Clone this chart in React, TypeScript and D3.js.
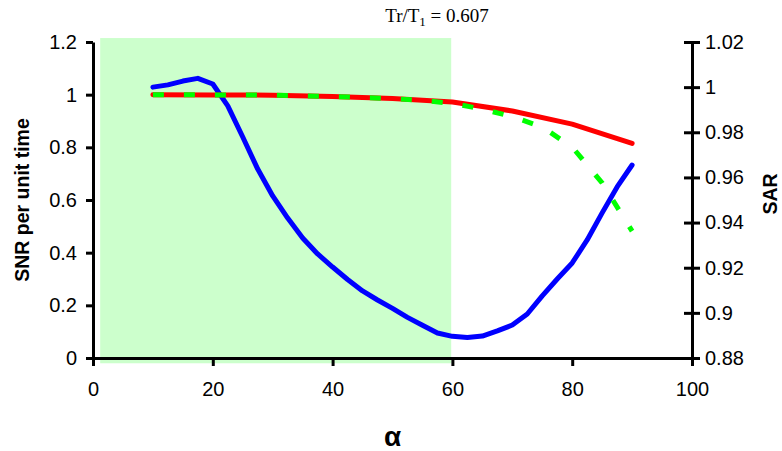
import React, { useEffect, useRef } from 'react';
import * as d3 from 'd3';

// ---- data ----
const blueAlpha = [10, 12.5, 15, 17.5, 20, 22.5, 25, 27.5, 30, 32.5, 35, 37.5, 40, 42.5, 45, 47.5, 50, 52.5, 55, 57.5, 60, 62.5, 65, 67.5, 70, 72.5, 75, 77.5, 80, 82.5, 85, 87.5, 90];
const blueSar = [1.0, 1.001, 1.0027, 1.0039, 1.0014, 0.9917, 0.9779, 0.9637, 0.9518, 0.942, 0.9332, 0.9261, 0.9203, 0.9148, 0.9097, 0.9057, 0.902, 0.898, 0.8945, 0.8911, 0.8896, 0.8891, 0.8897, 0.892, 0.8946, 0.8995, 0.9075, 0.915, 0.9221, 0.9323, 0.9443, 0.9558, 0.9655];

const redAlpha = [10, 20, 30, 40, 50, 60, 70, 80, 90];
const redSnr = [1.0, 0.999, 0.998, 0.993, 0.985, 0.972, 0.938, 0.888, 0.815];

const greenAlpha = [10, 20, 30, 40, 50, 55, 60, 65, 70, 75, 80, 85, 90];
const greenSnr = [1.0, 0.999, 0.998, 0.993, 0.985, 0.978, 0.967, 0.945, 0.917, 0.877, 0.801, 0.665, 0.482];

const shadeAlpha = [1.2, 59.8];
const shadeSnr = [-0.02, 1.215];

const xTicks = [0, 20, 40, 60, 80, 100];
const xTickLabels = ['0', '20', '40', '60', '80', '100'];
const leftTicks = [0, 0.2, 0.4, 0.6, 0.8, 1, 1.2];
const leftTickLabels = ['0', '0.2', '0.4', '0.6', '0.8', '1', '1.2'];
const rightTicks = [0.88, 0.9, 0.92, 0.94, 0.96, 0.98, 1.0, 1.02];
const rightTickLabels = ['0.88', '0.9', '0.92', '0.94', '0.96', '0.98', '1', '1.02'];

const W = 782;
const H = 451;
const L = 93, R = 692, T = 42, B = 358;

export default function App() {
  const axRef = useRef<SVGGElement>(null);

  const x = d3.scaleLinear().domain([0, 100]).range([L, R]);
  const yL = d3.scaleLinear().domain([0, 1.2]).range([B, T]);
  const yR = d3.scaleLinear().domain([0.88, 1.02]).range([B, T]);

  useEffect(() => {
    const g = d3.select(axRef.current);
    g.selectAll('*').remove();
    const font = "'Liberation Sans', Arial, sans-serif";

    const left = g.append('g').attr('transform', `translate(${L},0)`)
      .call(d3.axisLeft(yL).tickValues(leftTicks).tickFormat((d, i) => leftTickLabels[i]).tickSize(7).tickSizeOuter(0).tickPadding(9));
    const bottom = g.append('g').attr('transform', `translate(0,${B})`)
      .call(d3.axisBottom(x).tickValues(xTicks).tickFormat((d, i) => xTickLabels[i]).tickSize(8).tickSizeOuter(0).tickPadding(16));
    const right = g.append('g').attr('transform', `translate(${R},0)`)
      .call(d3.axisRight(yR).tickValues(rightTicks).tickFormat((d, i) => rightTickLabels[i]).tickSize(8).tickSizeOuter(0).tickPadding(5));
    right.selectAll('.tick line').attr('x1', -8);

    [left, bottom, right].forEach((a) => {
      a.selectAll('path.domain').attr('stroke', '#000').attr('stroke-width', 3);
      a.selectAll('.tick line').attr('stroke', '#000').attr('stroke-width', 3);
      a.selectAll('.tick text').attr('fill', '#000').attr('font-size', 20).attr('font-family', font);
    });
  }, []);

  const blueLine = d3.line<number>().x((_, i) => x(blueAlpha[i])).y((d) => yR(d));
  const redLine = d3.line<number>().x((_, i) => x(redAlpha[i])).y((d) => yL(d));
  const greenLine = d3.line<number>().x((_, i) => x(greenAlpha[i])).y((d) => yL(d));

  return (
    <svg width={W} height={H} style={{ position: 'absolute', left: 0, top: 0, background: '#fff' }}>
      <rect x={0} y={0} width={W} height={H} fill="#fff" />
      <rect
        x={x(shadeAlpha[0])}
        y={yL(shadeSnr[1])}
        width={x(shadeAlpha[1]) - x(shadeAlpha[0])}
        height={yL(shadeSnr[0]) - yL(shadeSnr[1])}
        fill="#CCFFCC"
      />
      <g ref={axRef} />
      <path d={blueLine(blueSar) || ''} fill="none" stroke="#0000FF" strokeWidth={5} strokeLinecap="round" strokeLinejoin="round" />
      <path d={redLine(redSnr) || ''} fill="none" stroke="#FF0000" strokeWidth={5} strokeLinecap="round" strokeLinejoin="round" />
      <path d={greenLine(greenSnr) || ''} fill="none" stroke="#00FF00" strokeWidth={5} strokeDasharray="11 20" />
      <text x={437} y={22} textAnchor="middle" fontFamily="'Liberation Serif', 'Times New Roman', serif" fontSize={19}>
        Tr/T<tspan fontSize={13} dy={4}>1</tspan><tspan dy={-4}> = 0.607</tspan>
      </text>
      <text transform={`translate(29,${(T + B) / 2}) rotate(-90)`} textAnchor="middle" fontFamily="'Liberation Sans', Arial, sans-serif" fontWeight="bold" fontSize={19.5}>
        SNR per unit time
      </text>
      <text transform={`translate(777,${(T + B) / 2 - 6}) rotate(-90)`} textAnchor="middle" fontFamily="'Liberation Sans', Arial, sans-serif" fontWeight="bold" fontSize={19.5}>
        SAR
      </text>
      <text x={(L + R) / 2} y={446} textAnchor="middle" fontFamily="'Liberation Sans', Arial, sans-serif" fontWeight="bold" fontSize={28}>
        α
      </text>
    </svg>
  );
}
